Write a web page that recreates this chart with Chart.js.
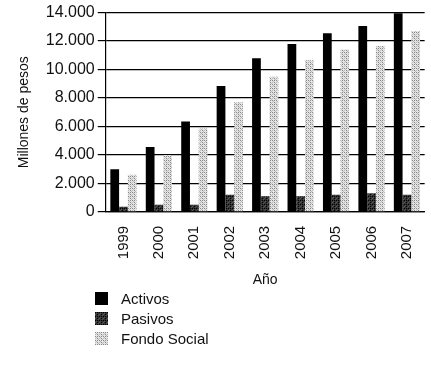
<!DOCTYPE html>
<html>
<head>
<meta charset="utf-8">
<script src="https://cdn.jsdelivr.net/npm/chart.js@4/dist/chart.umd.min.js"></script>
<style>
  body { margin: 0; background: #fff; font-family: "Liberation Sans", Arial, sans-serif; }
  #wrap { position: relative; width: 431px; height: 374px; }
  #chartBox { position: absolute; left: 0; top: 0; width: 431px; height: 293px; }
  #legend { position: absolute; left: 95px; top: 288px; font-size: 15px; color: #111; }
  .item { display: flex; align-items: center; height: 20px; }
  .sw { width: 13px; height: 13px; margin-right: 13px; }
</style>
</head>
<body>
<div id="wrap">
  <div id="chartBox"><canvas id="barChart"></canvas></div>
  <div id="legend"></div>
</div>
<script>
const years = ['1999', '2000', '2001', '2002', '2003', '2004', '2005', '2006', '2007'];
const activos = [3000, 4550, 6350, 8850, 10800, 11800, 12550, 13050, 13950];
const pasivos = [350, 500, 500, 1200, 1100, 1100, 1200, 1300, 1200];
const fondoSocial = [2600, 4000, 5850, 7700, 9500, 10650, 11400, 11650, 12700];
const yTicks = [0, 2000, 4000, 6000, 8000, 10000, 12000, 14000];

// small tiled canvases to imitate the printed hatching
function makePattern(dark, light, bg) {
  const c = document.createElement('canvas');
  c.width = 4; c.height = 4;
  const g = c.getContext('2d');
  g.fillStyle = bg;
  g.fillRect(0, 0, 4, 4);
  g.fillStyle = dark;
  g.fillRect(0, 0, 1, 1); g.fillRect(2, 2, 1, 1); g.fillRect(2, 0, 1, 1);
  g.fillStyle = light;
  g.fillRect(0, 2, 1, 1); g.fillRect(1, 1, 1, 1); g.fillRect(3, 3, 1, 1);
  return g.createPattern(c, 'repeat');
}
const pasivosFill = makePattern('#000', '#555', '#333');
const fondoFill = makePattern('#888', '#bbb', '#e4e4e4');

function fmt(v) {
  return String(v).replace(/\B(?=(\d{3})+(?!\d))/g, '.');
}

const ctx = document.getElementById('barChart').getContext('2d');
new Chart(ctx, {
  type: 'bar',
  data: {
    labels: years,
    datasets: [
      { label: 'Activos', data: activos, backgroundColor: '#000' },
      { label: 'Pasivos', data: pasivos, backgroundColor: pasivosFill },
      { label: 'Fondo Social', data: fondoSocial, backgroundColor: fondoFill }
    ]
  },
  options: {
    responsive: true,
    maintainAspectRatio: false,
    animation: false,
    layout: { padding: { top: 12, right: 1, left: 12, bottom: 0 } },
    datasets: { bar: { categoryPercentage: 0.74, barPercentage: 1.0 } },
    plugins: { legend: { display: false }, tooltip: { enabled: false } },
    scales: {
      x: {
        grid: { display: false },
        border: { color: '#000', width: 1.2 },
        ticks: { color: '#111', font: { size: 15, family: 'Liberation Sans' }, minRotation: 90, maxRotation: 90, padding: 6 },
        title: { display: true, text: 'Año', color: '#111', font: { size: 14, family: 'Liberation Sans' }, padding: { top: 7 } }
      },
      y: {
        min: 0, max: 14000,
        afterBuildTicks: axis => { axis.ticks = yTicks.map(v => ({ value: v })); },
        grid: { color: '#000', lineWidth: 1.2, tickLength: 8 },
        border: { color: '#000', width: 1.2 },
        ticks: { color: '#111', font: { size: 16, family: 'Liberation Sans' }, padding: 3, callback: v => fmt(v) },
        title: { display: true, text: 'Millones de pesos', color: '#111', font: { size: 14, family: 'Liberation Sans' }, padding: { bottom: 10 } }
      }
    }
  }
});

const legendItems = [['Activos', '#000'], ['Pasivos', pasivosFill], ['Fondo Social', fondoFill]];
const legend = document.getElementById('legend');
legendItems.forEach(([name, fill]) => {
  const row = document.createElement('div');
  row.className = 'item';
  const sw = document.createElement('canvas');
  sw.className = 'sw'; sw.width = 13; sw.height = 13;
  const g = sw.getContext('2d');
  g.fillStyle = fill; g.fillRect(0, 0, 13, 13);
  const t = document.createElement('span');
  t.textContent = name;
  row.appendChild(sw); row.appendChild(t);
  legend.appendChild(row);
});
</script>
</body>
</html>
